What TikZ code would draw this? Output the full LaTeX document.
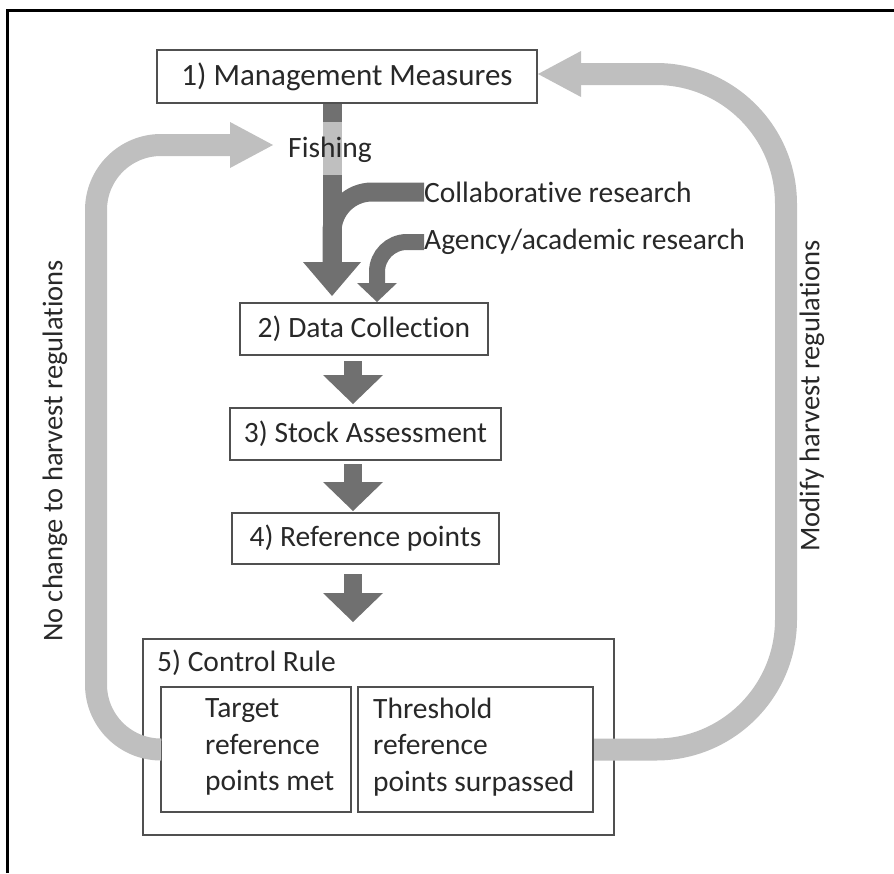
\documentclass[tikz,border=0pt]{standalone}
\usepackage{fontspec}
\setmainfont{Carlito}[Ligatures=NoCommon]
\usepackage{xcolor}
\definecolor{Col1}{RGB}{112,112,112}
\definecolor{Col2}{RGB}{191,191,191}
\definecolor{Col3}{RGB}{40,40,40}
\definecolor{Col4}{RGB}{80,80,80}
\usepackage{tikz}
\usetikzlibrary{arrows.meta}
\newcommand{\TxtBig}{\fontsize{31}{36}\selectfont}
\newcommand{\Txt}{\fontsize{29.5}{36.5}\selectfont}
\newcommand{\TxtSide}{\fontsize{28.5}{34}\selectfont}
\tikzstyle{Box}=[draw=Col4,line width=2pt,fill=white,inner sep=0pt,
text=Col3,font=\Txt]
\tikzstyle{Lbl}=[inner sep=0pt,text=Col3,font=\Txt]
\tikzstyle{Flow}=[draw=Col1,line width=19pt,
-{Triangle[length=34pt,width=58pt,line width=0pt]}]
\tikzstyle{Down}=[draw=Col1,line width=18pt,
-{Triangle[length=29pt,width=60pt,line width=0pt]}]
\tikzstyle{Feed}=[draw=Col1,rounded corners=40pt]
\tikzstyle{Loop}=[draw=Col2,line width=22pt,
-{Triangle[length=43pt,width=46pt,line width=0pt]}]

\begin{document}
\begin{tikzpicture}[x=1pt,y=-1pt]
            \useasboundingbox(0,0)rectangle(894,873);
            \draw[black,line width=3pt](7,873)--(7,10)--(894,10);
            %
            \node[Box,font=\TxtBig,minimum width=380pt,minimum height=53pt](1)at(347,76.5)
                {1) Management Measures};
            \node[Box,minimum width=248pt,minimum height=52pt](2)at(364,329)
                {2) Data Collection};
            \node[Box,minimum width=271pt,minimum height=52pt](3)at(365.5,434)
                {3) Stock Assessment};
            \node[Box,minimum width=267pt,minimum height=51pt](4)at(365.5,538.5)
                {4) Reference points};
            \node[Box,minimum width=471pt,minimum height=196pt](5)at(378.5,737){};
            \node[Lbl,anchor=west](5t)at(157,663){5) Control Rule};
            \node[Box,minimum width=190pt,minimum height=125pt](5a)at(256,749.5){};
            \node[Box,minimum width=235pt,minimum height=125pt](5b)at(475.5,749.5){};
            \node[Lbl,anchor=west,align=left](5at)at(205,747)
                {Target\\reference\\points met};
            \node[Lbl,anchor=west,align=left](5bt)at(373,747)
                {Threshold\\reference\\points surpassed};
            %
            \coordinate(m)at(332,0);
            \coordinate(g)at(377,0);
            \coordinate(d)at(353,0);
            \coordinate(j)at(332,262);
            \node[Lbl,anchor=west](C)at(424,192){Collaborative research};
            \node[Lbl,anchor=west](A)at(424,242){Agency/academic research};
            \draw[Flow,shorten >=6pt](1.south-|m)--(2.north-|m);
            \draw[Feed,line width=19pt](C.west)-|(j);
            \draw[Feed,line width=16pt,rounded corners=30pt,
                -{Triangle[length=19pt,width=40pt,line width=0pt]}](A.west)-|(2.north-|g);
            \fill[Col2](322.5,122)rectangle(341.5,175);
            \node[Lbl](F)at(330,150){Fishing};
            %
            \draw[Down,shorten <=5pt,shorten >=3pt](2.south-|d)--(3.north-|d);
            \draw[Down,shorten <=3pt,shorten >=1pt](3.south-|d)--(4.north-|d);
            \draw[Down,shorten <=9pt,shorten >=16pt](4.south-|d)--(5.north-|d);
            %
            \coordinate(LC)at(96,145);
            \coordinate(RC)at(786,74);
            \draw[Loop,rounded corners=65pt,shorten >=15pt](5a.west)-|(LC)--(F.west|-LC);
            \draw[Loop,rounded corners=130pt](5b.east)-|(RC)--(1.east|-RC);
            \node[Lbl,font=\TxtSide,rotate=90](L)at(55,451)
                {No change to harvest regulations};
            \node[Lbl,font=\TxtSide,rotate=90](R)at(812,396)
                {Modify harvest regulations};
        \end{tikzpicture}
\end{document}
